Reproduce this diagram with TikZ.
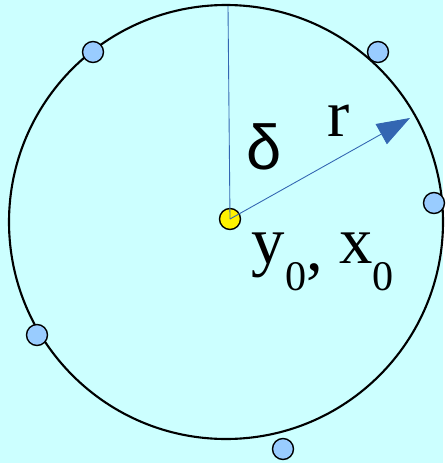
\documentclass[tikz,border=0pt]{standalone}
\usepackage{fontspec}
\setmainfont{Liberation Serif}
\newfontfamily\greekfont{Liberation Sans}
\usetikzlibrary{arrows.meta}
\definecolor{paper}{HTML}{CCFFFF}
\definecolor{dotblue}{HTML}{99CCFF}
\definecolor{rayblue}{HTML}{3366B2}
\newcommand{\lowsub}[1]{\raisebox{-15.4pt}{\fontsize{24}{24}\selectfont #1}}
\begin{document}
\begin{tikzpicture}[x=0.02cm,y=-0.02cm,thick,
    sensor/.style={draw, circle, fill=dotblue, line width=0.8pt, inner sep=0pt, minimum size=0.42cm},
    label/.style={font=\fontsize{38}{40}\selectfont, inner sep=0pt, anchor=base west}]
    \fill[paper] (0,0) rectangle (443,463);
    \draw[line width=1.2pt] (226,222) circle (217);

    \node (centre) [sensor, fill=yellow] at (230,219) {};
    \node (s1) [sensor] at (93,52) {};
    \node (s2) [sensor] at (378,52) {};
    \node (s3) [sensor] at (434,203) {};
    \node (s4) [sensor] at (37,335) {};
    \node (s5) [sensor] at (283,449) {};
    \coordinate (top) at (228,6);
    \coordinate (tip) at (410,118);

    \draw[rayblue, line width=0.5pt] (centre.center) -- (top);
    \draw[rayblue, line width=0.5pt, -{Triangle[length=0.66cm, width=0.46cm]}] (centre.center) -- (tip);

    \node (delta) [label, font=\fontsize{36}{40}\greekfont] at (246,169) {δ};
    \node (radius) [label] at (327,136) {r};
    \node (origin) [label] at (251,263) {y\lowsub{0}\raisebox{-4pt}{,} x\lowsub{0}};
\end{tikzpicture}
\end{document}
